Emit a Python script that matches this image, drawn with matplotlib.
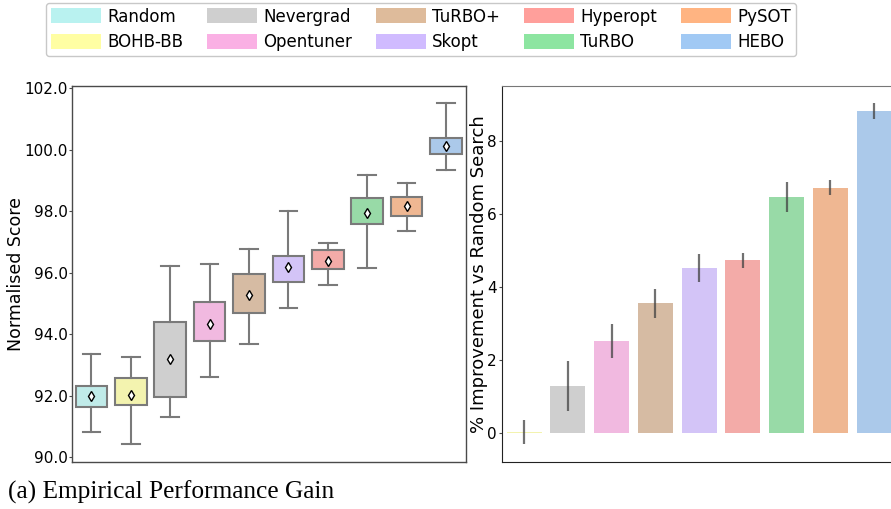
import colorsys
import matplotlib
matplotlib.use("Agg")
import matplotlib.pyplot as plt
import matplotlib.colors as mcolors
from matplotlib.patches import Patch

plt.rcParams['font.family'] = ['DejaVu Sans']

# optimisers and their pastel colours
methods = ['Random', 'BOHB-BB', 'Nevergrad', 'Opentuner', 'TuRBO+',
           'Skopt', 'Hyperopt', 'TuRBO', 'PySOT', 'HEBO']
colors = ['#b9f2f0', '#fffea3', '#cfcfcf', '#fab0e4', '#debb9b',
          '#d0bbff', '#ff9f9b', '#8de5a1', '#ffb482', '#a1c9f4']

# normalised score box stats
whis_lo = [90.82, 90.44, 91.30, 92.61, 93.69, 94.87, 95.61, 96.15, 97.36, 99.36]
q1 = [91.65, 91.69, 91.98, 93.80, 94.71, 95.72, 96.12, 97.58, 97.86, 99.88]
means = [92.00, 92.03, 93.19, 94.33, 95.28, 96.18, 96.39, 97.96, 98.19, 100.13]
q3 = [92.33, 92.57, 94.41, 95.07, 95.96, 96.56, 96.74, 98.43, 98.48, 100.38]
whis_hi = [93.37, 93.28, 96.24, 96.30, 96.79, 98.02, 96.99, 99.17, 98.94, 101.53]

# % improvement over random search (no bar for Random itself)
improvement = [0.03, 1.30, 2.53, 3.57, 4.53, 4.74, 6.47, 6.72, 8.82]
err_lo = [-0.30, 0.61, 2.07, 3.17, 4.15, 4.53, 6.05, 6.52, 8.62]
err_hi = [0.36, 1.98, 2.98, 3.94, 4.91, 4.95, 6.87, 6.93, 9.05]


def desaturate(c, prop=0.75):
    r, g, b = mcolors.to_rgb(c)
    h, l, s = colorsys.rgb_to_hls(r, g, b)
    return colorsys.hls_to_rgb(h, l, s * prop)


muted = [desaturate(c) for c in colors]
line_grey = '#7a7a7a'
spine_grey = '#4a4a4a'

fig = plt.figure(figsize=(8.91, 5.09), dpi=100)

# --- boxplots ---
ax1 = fig.add_axes([0.0805, 0.0929, 0.4422, 0.7387])
stats = []
for i in range(len(methods)):
    stats.append(dict(whislo=whis_lo[i], q1=q1[i], med=means[i], q3=q3[i],
                      whishi=whis_hi[i], mean=means[i], fliers=[]))
bp = ax1.bxp(stats, positions=range(len(methods)), widths=0.8,
             patch_artist=True, showmeans=True, showfliers=False,
             capwidths=0.45,
             boxprops=dict(edgecolor=line_grey, linewidth=1.5),
             whiskerprops=dict(color=line_grey, linewidth=1.5),
             capprops=dict(color=line_grey, linewidth=1.5),
             medianprops=dict(linewidth=0),
             meanprops=dict(marker='d', markerfacecolor='white',
                            markeredgecolor='black', markersize=5.5,
                            markeredgewidth=1.0))
for patch, c in zip(bp['boxes'], muted):
    patch.set_facecolor(c)
ax1.set_xlim(-0.5, 9.5)
ax1.set_ylim(89.86, 102.09)
yt = [90, 92, 94, 96, 98, 100, 102]
ax1.set_yticks(yt)
ax1.set_yticklabels(['%.1f' % v for v in yt])
ax1.set_xticks([])
ax1.tick_params(axis='y', length=2, width=0.8, color=spine_grey,
                labelsize=11, pad=1)
ax1.set_ylabel('Normalised Score', fontsize=12.5)
ax1.yaxis.set_label_coords(-0.118, 0.5)
for s in ax1.spines.values():
    s.set_color(spine_grey)
    s.set_linewidth(1.0)

# --- improvement bars ---
ax2 = fig.add_axes([0.5637, 0.0929, 0.4419, 0.7387])
x = range(len(improvement))
ax2.bar(x, improvement, width=0.8, color=muted[1:])
for i in x:
    ax2.plot([i, i], [err_lo[i], err_hi[i]], color='#424242',
             linewidth=1.6, alpha=0.75, solid_capstyle='butt')
ax2.set_xlim(-0.5, 8.5)
ax2.set_ylim(-0.78, 9.52)
ax2.set_yticks([0, 2, 4, 6, 8])
ax2.set_xticks([])
ax2.tick_params(axis='y', length=2, width=0.8, color=spine_grey,
                labelsize=11, pad=2)
ax2.set_ylabel('% Improvement vs Random Search', fontsize=13)
ax2.yaxis.set_label_coords(-0.036, 0.5)
ax2.spines['left'].set_color('#222222')
ax2.spines['bottom'].set_color('#222222')
ax2.spines['top'].set_color('#777777')
ax2.spines['right'].set_visible(False)

# legend across the top, filled column by column
handles = [Patch(facecolor=c, edgecolor='none') for c in colors]
order = [0, 2, 4, 6, 8, 1, 3, 5, 7, 9]
col_order = []
for k in range(5):
    col_order += [order[k], order[k + 5]]
fig.legend([handles[i] for i in col_order], [methods[i] for i in col_order],
           loc='upper center', bbox_to_anchor=(0.4725, 0.995), ncol=5,
           fontsize=12, handlelength=3.0, handleheight=1.0,
           handletextpad=0.36, columnspacing=1.45, labelspacing=0.45,
           borderpad=0.3, borderaxespad=0.0, frameon=True,
           edgecolor='#bbbbbb', fancybox=True)

fig.text(0.009, 0.033, '(a) Empirical Performance Gain',
         family='Liberation Serif', fontsize=18.3, ha='left', va='center')

fig.savefig('out.png', dpi=100)
